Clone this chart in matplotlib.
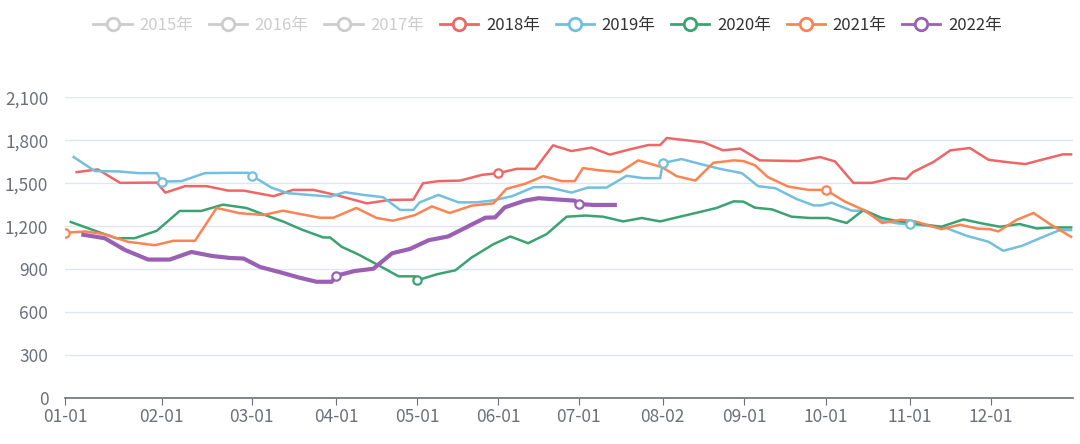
import numpy as np
import matplotlib.pyplot as plt
from matplotlib.lines import Line2D

plt.rcParams['font.family'] = ['Noto Sans CJK SC', 'DejaVu Sans']

# x values are month positions: 0 = 01-01, 1 = 02-01, ... 11 = 12-01
x_2018 = [0.12, 0.34, 0.57, 0.95, 1.04, 1.26, 1.50, 1.74, 1.91, 2.26, 2.49, 2.73, 3.01, 3.38, 3.66, 3.95,
          4.07, 4.26, 4.53, 4.80, 5.00, 5.23, 5.46, 5.68, 5.91, 6.15, 6.37, 6.61, 6.83, 6.97, 7.05, 7.50,
          7.74, 7.95, 8.19, 8.66, 8.93, 9.11, 9.33, 9.55, 9.79, 9.96, 10.04, 10.29, 10.50, 10.74, 10.97,
          11.19, 11.42, 11.64, 11.88, 11.98]
y_2018 = [1578, 1597, 1503, 1505, 1435, 1480, 1480, 1449, 1449, 1410, 1454, 1454, 1417, 1360, 1384, 1386,
          1500, 1515, 1519, 1559, 1571, 1601, 1601, 1765, 1725, 1749, 1700, 1737, 1767, 1767, 1816, 1786,
          1730, 1742, 1660, 1655, 1683, 1653, 1503, 1503, 1536, 1531, 1578, 1648, 1730, 1746, 1664,
          1648, 1634, 1667, 1702, 1702]

x_2019 = [0.09, 0.31, 0.55, 0.76, 0.95, 1.00, 1.22, 1.48, 1.76, 1.96, 2.00, 2.24, 2.43, 2.93, 3.11, 3.34,
          3.58, 3.79, 3.95, 4.03, 4.26, 4.51, 4.73, 4.94, 5.17, 5.44, 5.62, 5.91, 6.11, 6.33, 6.57, 6.77,
          6.97, 7.00, 7.23, 7.48, 7.70, 7.97, 8.17, 8.38, 8.64, 8.85, 8.95, 9.07, 9.31, 9.45, 9.67, 9.86,
          10.00, 10.43, 10.70, 10.97, 11.15, 11.38, 11.62, 11.84, 11.98]
y_2019 = [1683, 1585, 1583, 1571, 1571, 1512, 1515, 1571, 1573, 1573, 1554, 1468, 1431, 1407, 1438, 1419,
          1403, 1314, 1314, 1367, 1419, 1367, 1367, 1381, 1410, 1473, 1473, 1435, 1470, 1470, 1552, 1536,
          1536, 1641, 1669, 1632, 1601, 1571, 1480, 1466, 1391, 1346, 1346, 1365, 1309, 1309, 1239, 1220,
          1215, 1192, 1134, 1092, 1029, 1064, 1122, 1173, 1173]

x_2020 = [0.06, 0.41, 0.53, 0.72, 0.95, 1.20, 1.44, 1.68, 1.94, 2.18, 2.37, 2.59, 2.85, 2.93, 3.07, 3.27,
          3.50, 3.77, 3.97, 4.00, 4.24, 4.47, 4.67, 4.94, 5.15, 5.37, 5.60, 5.85, 6.08, 6.29, 6.53, 6.75,
          6.97, 7.21, 7.42, 7.66, 7.87, 7.99, 8.13, 8.34, 8.58, 8.81, 9.03, 9.25, 9.45, 9.67, 9.83, 10.02,
          10.39, 10.66, 10.89, 11.11, 11.35, 11.56, 11.76, 11.98]
y_2020 = [1230, 1145, 1117, 1117, 1169, 1307, 1307, 1351, 1328, 1274, 1234, 1178, 1122, 1122, 1057, 1005,
          935, 851, 851, 823, 865, 893, 982, 1075, 1129, 1082, 1145, 1267, 1275, 1267, 1234, 1258,
          1234, 1267, 1295, 1328, 1374, 1372, 1330, 1318, 1267, 1258, 1258, 1223, 1314, 1258, 1239, 1223,
          1197, 1248, 1220, 1197, 1216, 1185, 1192, 1192]

x_2021 = [0.00, 0.21, 0.41, 0.65, 0.93, 1.13, 1.37, 1.61, 1.87, 2.14, 2.37, 2.57, 2.81, 2.97, 3.25, 3.50,
          3.70, 3.97, 4.18, 4.40, 4.67, 4.94, 5.10, 5.33, 5.56, 5.79, 5.95, 6.05, 6.25, 6.49, 6.71, 6.99,
          7.17, 7.40, 7.62, 7.87, 7.99, 8.13, 8.29, 8.54, 8.79, 9.00, 9.23, 9.47, 9.67, 9.90, 10.07,
          10.39, 10.62, 10.84, 10.99, 11.09, 11.31, 11.52, 11.72, 11.98]
y_2021 = [1155, 1164, 1145, 1092, 1068, 1099, 1099, 1328, 1291, 1279, 1309, 1286, 1260, 1260, 1328, 1258,
          1239, 1278, 1339, 1293, 1344, 1360, 1461, 1496, 1550, 1515, 1515, 1606, 1590, 1578, 1660, 1613,
          1550, 1519, 1643, 1660, 1655, 1626, 1543, 1477, 1454, 1454, 1372, 1309, 1223, 1246, 1234,
          1180, 1211, 1183, 1180, 1164, 1244, 1293, 1216, 1127]

x_2022 = [0.19, 0.41, 0.62, 0.86, 1.09, 1.33, 1.56, 1.76, 1.91, 2.10, 2.34, 2.57, 2.77, 2.95, 3.00, 3.23,
          3.46, 3.69, 3.91, 4.14, 4.38, 4.65, 4.84, 4.96, 5.08, 5.33, 5.50, 5.71, 5.95, 6.00, 6.17, 6.43]
y_2022 = [1141, 1117, 1035, 968, 968, 1021, 993, 979, 975, 916, 879, 841, 813, 813, 855, 888,
          904, 1012, 1042, 1103, 1129, 1206, 1260, 1262, 1332, 1379, 1396, 1388, 1379, 1356, 1349, 1349]

# points drawn with a hollow symbol
marks_2018 = [5.00]
marks_2019 = [1.00, 2.00, 7.00, 10.00]
marks_2020 = [4.00]
marks_2021 = [0.00, 9.00]
marks_2022 = [3.00, 6.00]

tick_labels = ['01-01', '02-01', '03-01', '04-01', '05-01', '06-01',
               '07-01', '08-02', '09-01', '10-01', '11-01', '12-01']
hidden_years = ['2015年', '2016年', '2017年']

# width of each month on the category axis (relative)
month_w = [96.7, 90, 84.3, 81.3, 81, 80.4, 84, 81.6, 81.4, 84, 81.3, 81.7]
edges = np.arange(13)
cum = np.concatenate([[0], np.cumsum(month_w)])


def fwd(v):
    return np.interp(v, edges, cum)


def inv(v):
    return np.interp(v, cum, edges)


series = [
    ('2018年', x_2018, y_2018, marks_2018, '#ee6666', 1.8),
    ('2019年', x_2019, y_2019, marks_2019, '#73c0de', 1.8),
    ('2020年', x_2020, y_2020, marks_2020, '#3ba272', 1.8),
    ('2021年', x_2021, y_2021, marks_2021, '#fc8452', 1.8),
    ('2022年', x_2022, y_2022, marks_2022, '#9a60b4', 3.0),
]

fig = plt.figure(figsize=(10.8, 4.44), dpi=100)
ax = fig.add_axes([65 / 1080, 45.7 / 444, 1007.7 / 1080, 301 / 444])
ax.set_xscale('function', functions=(fwd, inv))

for name, xs, ys, mk, col, lw in series:
    idx = [xs.index(m) for m in mk]
    ax.plot(xs, ys, color=col, lw=lw, solid_joinstyle='round', zorder=3)
    ax.plot([xs[i] for i in idx], [ys[i] for i in idx], ls='none', marker='o',
            ms=6, mfc='white', mec=col, mew=1.6, zorder=4)

ax.set_xlim(0, 12)
ax.set_ylim(0, 2100)
ax.set_yticks(np.arange(0, 2101, 300))
ax.set_yticklabels([f'{v:,}' for v in range(0, 2101, 300)])
ax.set_xticks(range(12))
ax.set_xticklabels(tick_labels)
ax.grid(axis='y', color='#e0e6f1', lw=1)
ax.set_axisbelow(True)
for s in ['top', 'right', 'left']:
    ax.spines[s].set_visible(False)
ax.spines['bottom'].set_color('#6e7079')
ax.spines['bottom'].set_linewidth(1.2)
ax.tick_params(axis='y', length=0, labelsize=12.5, labelcolor='#6e7079', pad=12)
ax.tick_params(axis='x', length=5, color='#6e7079', labelsize=12.5, labelcolor='#6e7079', pad=2)

handles = []
labels = []
for name in hidden_years:
    handles.append(Line2D([], [], color='#cccccc', lw=2, marker='o', ms=9, mfc='white', mec='#cccccc', mew=2))
    labels.append(name)
for name, xs, ys, mk, col, lw in series:
    handles.append(Line2D([], [], color=col, lw=2, marker='o', ms=9, mfc='white', mec=col, mew=2))
    labels.append(name)
leg = fig.legend(handles, labels, loc='upper center', bbox_to_anchor=(0.507, 0.995), ncol=8,
                 frameon=False, fontsize=12, handlelength=2.3, handletextpad=0.45, columnspacing=0.95,
                 labelcolor=['#cccccc'] * 3 + ['#333333'] * 5)

fig.savefig('out.png', dpi=100)
